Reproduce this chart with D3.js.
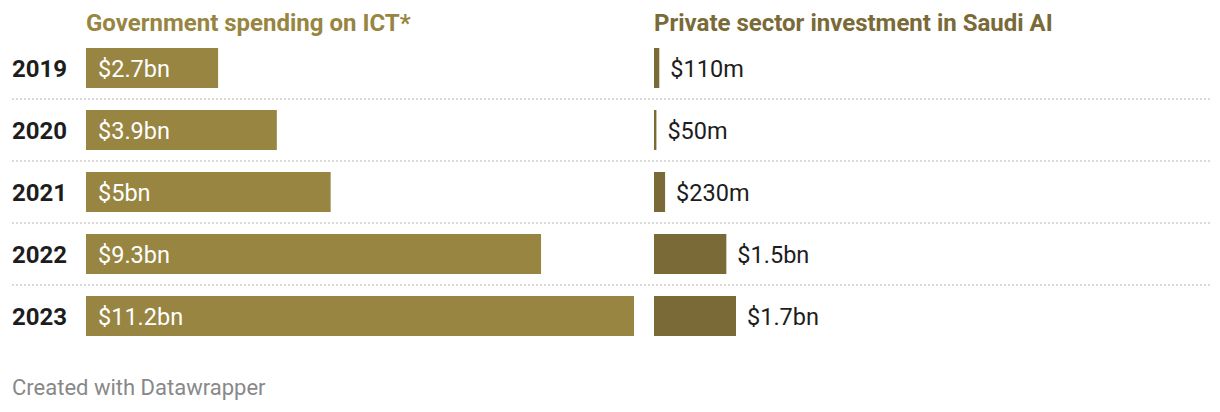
<!DOCTYPE html>
<html><head><meta charset="utf-8">
<script src="https://cdn.jsdelivr.net/npm/d3@7"></script>
<style>body{margin:0;background:#fff;font-family:Roboto,sans-serif}</style>
</head><body><svg id="c" width="1220" height="412"></svg>
<script>
const years = ["2019","2020","2021","2022","2023"];
const govValues = [2.7, 3.9, 5, 9.3, 11.2];
const govLabels = ["$2.7bn","$3.9bn","$5bn","$9.3bn","$11.2bn"];
const privValues = [0.11, 0.05, 0.23, 1.5, 1.7];
const privLabels = ["$110m","$50m","$230m","$1.5bn","$1.7bn"];
const titles = ["Government spending on ICT*", "Private sector investment in Saudi AI"];

const svg = d3.select("#c");
// row pitch 62, bar height 40
const yb = d3.scaleBand().domain(years).range([37, 347]).paddingInner(0.355).paddingOuter(0.1775);
const xL = d3.scaleLinear().domain([0, 11.2]).range([86, 634]);
const xR = d3.scaleLinear().domain([0, 1.7]).range([654, 736]);

years.slice(1).forEach((d) => {
  const yy = yb(d) - (yb.step() - yb.bandwidth()) / 2;
  svg.append("line").attr("x1", 12).attr("x2", 1210).attr("y1", yy).attr("y2", yy)
    .attr("stroke", "#cfcfcf").attr("stroke-width", 1.5).attr("stroke-dasharray", "2,2");
});

svg.append("text").attr("x", 86).attr("y", 31).text(titles[0])
  .attr("font-weight", 700).attr("font-size", 24).attr("fill", "#978541");
svg.append("text").attr("x", 654).attr("y", 31).text(titles[1])
  .attr("font-weight", 700).attr("font-size", 24).attr("fill", "#7a6a37");

const rows = svg.selectAll("g.row").data(years).join("g");
const base = d => yb(d) + yb.bandwidth()/2 + 8.5;
rows.append("text").attr("x", 12).attr("y", base)
  .text(d => d).attr("font-weight", 700).attr("font-size", 24).attr("fill", "#1d1d1d");
rows.append("rect").attr("x", xL(0)).attr("y", d => yb(d))
  .attr("width", (d,i) => xL(govValues[i]) - xL(0)).attr("height", yb.bandwidth()).attr("fill", "#978541");
rows.append("text").attr("x", xL(0) + 12).attr("y", base)
  .text((d,i) => govLabels[i]).attr("font-size", 23.5).attr("fill", "#fff");
rows.append("rect").attr("x", xR(0)).attr("y", d => yb(d))
  .attr("width", (d,i) => Math.max(1, xR(privValues[i]) - xR(0))).attr("height", yb.bandwidth()).attr("fill", "#7a6a37");
rows.append("text").attr("x", (d,i) => Math.max(xR(privValues[i]), xR(0)+1) + 11).attr("y", base)
  .text((d,i) => privLabels[i]).attr("font-size", 23.5).attr("fill", "#1d1d1d");

svg.append("text").attr("x", 12).attr("y", 395).text("Created with Datawrapper")
  .attr("font-size", 22).attr("fill", "#888");
</script></body></html>
